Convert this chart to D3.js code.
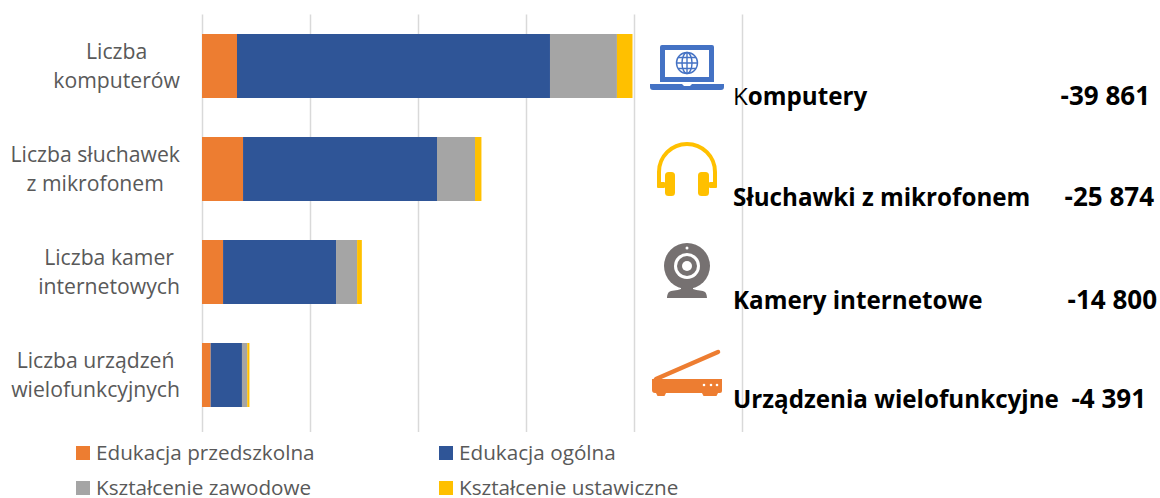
<!DOCTYPE html>
<html>
<head>
<meta charset="utf-8">
<script src="https://cdn.jsdelivr.net/npm/d3@7"></script>
<style>
  html, body { margin: 0; padding: 0; background: #fff; }
  svg { display: block; }
  text { font-family: "Open Sans", sans-serif; }
</style>
</head>
<body>
<svg></svg>
<script>
const categories = ['Liczba komputerów', 'Liczba słuchawek z mikrofonem', 'Liczba kamer internetowych', 'Liczba urządzeń wielofunkcyjnych']
const categoryLines = [['Liczba', 'komputerów'], ['Liczba słuchawek', 'z mikrofonem'], ['Liczba kamer', 'internetowych'], ['Liczba urządzeń', 'wielofunkcyjnych']]
const seriesNames = ['Edukacja przedszkolna', 'Edukacja ogólna', 'Kształcenie zawodowe', 'Kształcenie ustawiczne']
const seriesColors = ['#ed7d31', '#2f5597', '#a5a5a5', '#ffc000']
const przedszkolna = [3240, 3800, 1950, 800]
const ogolna = [28980, 17960, 10460, 2900]
const zawodowe = [6200, 3520, 1950, 490]
const ustawiczne = [1441, 594, 440, 201]
const xTicks = [0, 10000, 20000, 30000, 40000, 50000]
const totalLabels = ['Komputery', 'Słuchawki z mikrofonem', 'Kamery internetowe', 'Urządzenia wielofunkcyjne']
const totalValues = ['-39 861', '-25 874', '-14 800', '-4 391']

const width = 1160
const height = 498
const margin = { left: 202, top: 14.5, bottom: 71.5 }
const gridBottom = 432

const svg = d3.select('svg')
  .attr('width', width)
  .attr('height', height)
  .attr('viewBox', [0, 0, width, height])

const x = d3.scaleLinear().domain([0, 50000]).range([margin.left, 742])
const y = d3.scaleBand().domain(categories).range([margin.top, height - margin.bottom]).paddingInner(39 / 103).paddingOuter(19.5 / 103)

// siatka pionowa
svg.append('g')
  .attr('transform', 'translate(0,' + gridBottom + ')')
  .call(d3.axisBottom(x).tickValues(xTicks).tickSizeOuter(0).tickFormat(''))
  .call(g => g.select('.domain').remove())
  .call(g => g.selectAll('.tick line')
    .attr('y2', -(gridBottom - margin.top))
    .attr('stroke', '#d9d9d9')
    .attr('stroke-width', 1.5))

// słupki
const rows = categories.map((c, i) => ({ category: c, 0: przedszkolna[i], 1: ogolna[i], 2: zawodowe[i], 3: ustawiczne[i] }))
const stacked = d3.stack().keys([0, 1, 2, 3])(rows)

svg.append('g')
  .selectAll('g')
  .data(stacked)
  .join('g')
  .attr('fill', (d, i) => seriesColors[i])
  .selectAll('rect')
  .data(d => d)
  .join('rect')
  .attr('x', d => x(d[0]))
  .attr('y', d => y(d.data.category))
  .attr('width', d => x(d[1]) - x(d[0]))
  .attr('height', y.bandwidth())

// etykiety kategorii: wyśrodkowane w bloku, blok do prawej
const labelRight = 180
categories.forEach((c, i) => {
  const cy = y(c) + y.bandwidth() / 2
  const t = svg.append('text')
    .attr('text-anchor', 'middle')
    .attr('fill', '#595959')
    .style('font-size', '21.2px')
  const spans = t.selectAll('tspan')
    .data(categoryLines[i])
    .join('tspan')
    .attr('y', (s, k) => cy + (k === 0 ? -7 : 22))
    .text(s => s)
  const longest = d3.max(spans.nodes(), n => n.getComputedTextLength())
  spans.attr('x', labelRight - longest / 2)
})

// legenda
const legendX = [76, 439]
const legendY = [446, 481]
seriesNames.forEach((name, i) => {
  const lx = legendX[i % 2]
  const ly = legendY[Math.floor(i / 2)]
  svg.append('rect')
    .attr('x', lx).attr('y', ly)
    .attr('width', 14).attr('height', 14)
    .attr('fill', seriesColors[i])
  svg.append('text')
    .attr('x', lx + 20).attr('y', ly + 14)
    .attr('fill', '#595959')
    .style('font-size', '20.7px')
    .text(name)
})

// tekst po prawej
const rowY = [105, 206, 309, 408]
const valueEnd = [1150, 1154, 1157, 1146]
totalLabels.forEach((name, i) => {
  const t = svg.append('text')
    .attr('x', 733).attr('y', rowY[i])
    .attr('fill', '#000')
    .attr('font-weight', 700)
    .style('font-size', '24.2px')
  if (i === 0) {
    t.append('tspan').attr('font-weight', 400).text(name[0])
    t.append('tspan').text(name.slice(1))
  } else {
    t.text(name)
  }
  svg.append('text')
    .attr('x', valueEnd[i]).attr('y', rowY[i])
    .attr('text-anchor', 'end')
    .attr('fill', '#000')
    .attr('font-weight', 700)
    .style('font-size', '26px')
    .text(totalValues[i])
})

// ikony
const laptop = svg.append('g').attr('fill', '#4472c4')
laptop.append('path').attr('fill-rule', 'evenodd')
  .attr('d', 'M662 45h50a2 2 0 0 1 2 2v35h-54v-35a2 2 0 0 1 2-2zM665 50v27h44v-27z')
laptop.append('path').attr('d', 'M650 84h32l2 2h6l2-2h32v3a3 3 0 0 1-3 3h-68a3 3 0 0 1-3-3z')
const globe = laptop.append('g').attr('fill', 'none').attr('stroke', '#4472c4').attr('stroke-width', 1.4)
globe.append('circle').attr('cx', 687).attr('cy', 63).attr('r', 10.5)
globe.append('ellipse').attr('cx', 687).attr('cy', 63).attr('rx', 5).attr('ry', 10.5)
globe.append('path').attr('d', 'M687 52.5v21M676.5 63h21M678 57.5h18M678 68.5h18')

const phones = svg.append('g').attr('fill', '#ffc000')
phones.append('path').attr('fill', 'none').attr('stroke', '#ffc000').attr('stroke-width', 4)
  .attr('d', 'M659 187v-15a28 28 0 0 1 56 0v15')
phones.append('rect').attr('x', 665).attr('y', 172).attr('width', 10).attr('height', 24).attr('rx', 3.5)
phones.append('rect').attr('x', 698).attr('y', 172).attr('width', 11).attr('height', 24).attr('rx', 3.5)
phones.append('rect').attr('x', 657).attr('y', 182).attr('width', 8).attr('height', 6).attr('rx', 1)
phones.append('rect').attr('x', 709).attr('y', 182).attr('width', 8).attr('height', 6).attr('rx', 1)

const cam = svg.append('g')
cam.append('path').attr('fill', '#767171')
  .attr('d', 'M681 286h12v3c4 2 10 1 12 3 2 2 2 6 2 6h-40s0-4 2-6c2-2 8-1 12-3z')
cam.append('circle').attr('cx', 687).attr('cy', 266).attr('r', 23).attr('fill', '#767171')
cam.append('circle').attr('cx', 687).attr('cy', 266).attr('r', 13).attr('fill', '#fff')
cam.append('circle').attr('cx', 687).attr('cy', 266).attr('r', 10).attr('fill', '#767171')
cam.append('circle').attr('cx', 687).attr('cy', 266).attr('r', 5).attr('fill', '#fff')
cam.append('circle').attr('cx', 687).attr('cy', 248).attr('r', 1.5).attr('fill', '#fff')

const scanner = svg.append('g')
scanner.append('path').attr('fill', 'none').attr('stroke', '#ed7d31').attr('stroke-width', 4.5).attr('stroke-linecap', 'round')
  .attr('d', 'M656 379L718 352')
scanner.append('path').attr('fill', '#ed7d31')
  .attr('d', 'M652 379h70v12a2 2 0 0 1-2 2h-2l-1 2a1 1 0 0 1-1 1h-12a1 1 0 0 1-1-1l-1-2h-36l-1 2a1 1 0 0 1-1 1h-6a1 1 0 0 1-1-1l-1-2h-1a3 3 0 0 1-3-3z')
scanner.append('g').attr('fill', '#fff')
  .selectAll('circle').data([704, 711, 717]).join('circle')
  .attr('cx', d => d).attr('cy', 385).attr('r', 1.3)
</script>
</body>
</html>
